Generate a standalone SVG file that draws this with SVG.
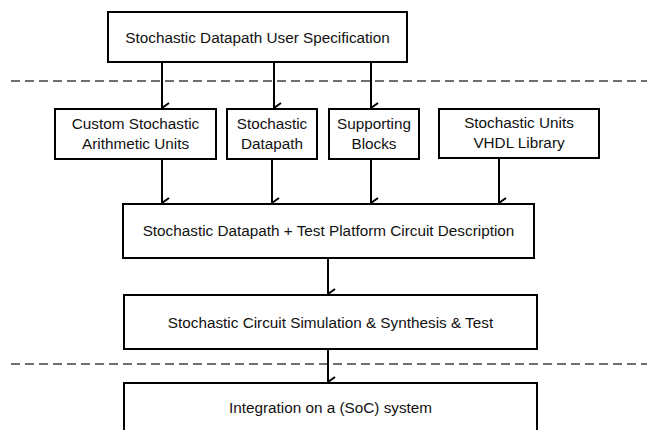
<svg xmlns="http://www.w3.org/2000/svg" width="647" height="430" viewBox="0 0 647 430">
  <defs>
    <marker id="arrow" viewBox="0 0 12 11" refX="6" refY="10" markerWidth="12" markerHeight="11" markerUnits="userSpaceOnUse" orient="auto-start-reverse">
      <path d="M1,3 L6,10 L11,3" fill="none" stroke="#000" stroke-width="2"/>
    </marker>
    <style>
      .box { fill: #fff; stroke: #000; stroke-width: 2; }
      .lbl { font-family: "Liberation Sans", Arial, sans-serif; font-size: 15.3px; fill: #111; text-anchor: middle; }
      .flow { stroke: #000; stroke-width: 2; fill: none; }
      .sep { stroke: #404040; stroke-width: 1.5; stroke-dasharray: 9 5; fill: none; }
    </style>
  </defs>
  <rect width="647" height="430" fill="#fff"/>

  <!-- phase separators -->
  <g id="separators">
    <line class="sep" x1="11" y1="81" x2="647" y2="81"/>
    <line class="sep" x1="11" y1="364" x2="647" y2="364"/>
  </g>

  <!-- connectors -->
  <g id="connectors">
    <line class="flow" x1="162" y1="62" x2="162" y2="108" marker-end="url(#arrow)"/>
    <line class="flow" x1="274" y1="62" x2="274" y2="108" marker-end="url(#arrow)"/>
    <line class="flow" x1="371" y1="62" x2="371" y2="108" marker-end="url(#arrow)"/>
    <line class="flow" x1="162" y1="159" x2="162" y2="203" marker-end="url(#arrow)"/>
    <line class="flow" x1="272" y1="159" x2="272" y2="203" marker-end="url(#arrow)"/>
    <line class="flow" x1="371" y1="159" x2="371" y2="203" marker-end="url(#arrow)"/>
    <line class="flow" x1="499" y1="159" x2="499" y2="203" marker-end="url(#arrow)"/>
    <line class="flow" x1="328" y1="258" x2="328" y2="294" marker-end="url(#arrow)"/>
    <line class="flow" x1="328" y1="349" x2="328" y2="382" marker-end="url(#arrow)"/>
  </g>

  <g id="user-spec">
    <rect class="box" x="108" y="12" width="299" height="50"/>
    <text class="lbl" x="257.5" y="42.5">Stochastic Datapath User Specification</text>
  </g>

  <g id="custom-units">
    <rect class="box" x="55" y="109" width="161" height="50"/>
    <text class="lbl" x="135.5" y="129">Custom Stochastic</text>
    <text class="lbl" x="135.5" y="149">Arithmetic Units</text>
  </g>

  <g id="datapath">
    <rect class="box" x="227" y="109" width="90" height="50"/>
    <text class="lbl" x="272" y="129">Stochastic</text>
    <text class="lbl" x="272" y="149">Datapath</text>
  </g>

  <g id="supporting">
    <rect class="box" x="329" y="109" width="90" height="50"/>
    <text class="lbl" x="374" y="129">Supporting</text>
    <text class="lbl" x="374" y="149">Blocks</text>
  </g>

  <g id="vhdl-library">
    <rect class="box" x="439" y="109" width="160" height="49"/>
    <text class="lbl" x="519" y="128">Stochastic Units</text>
    <text class="lbl" x="519" y="148">VHDL Library</text>
  </g>

  <g id="circuit-description">
    <rect class="box" x="123" y="204" width="411" height="54"/>
    <text class="lbl" x="328.5" y="236">Stochastic Datapath + Test Platform Circuit Description</text>
  </g>

  <g id="simulation">
    <rect class="box" x="124" y="295" width="413" height="54"/>
    <text class="lbl" x="330.5" y="327.5">Stochastic Circuit Simulation &amp; Synthesis &amp; Test</text>
  </g>

  <g id="integration">
    <rect class="box" x="124" y="383" width="413" height="60"/>
    <text class="lbl" x="330.5" y="413">Integration on a (SoC) system</text>
  </g>
</svg>
